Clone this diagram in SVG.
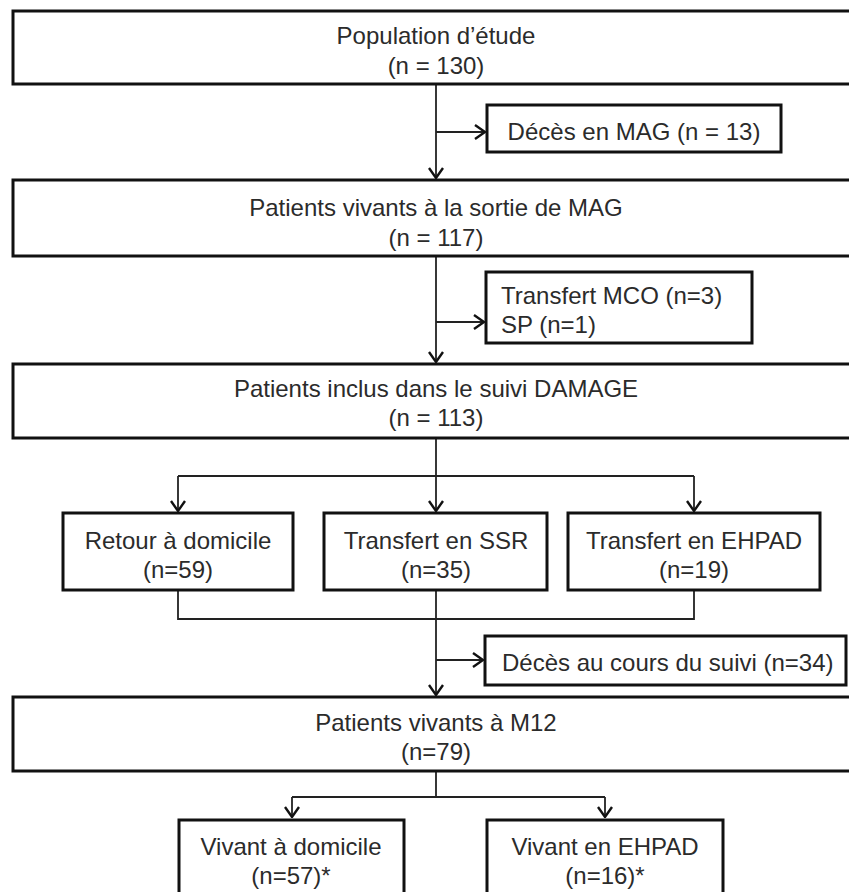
<svg xmlns="http://www.w3.org/2000/svg" width="849" height="892" viewBox="0 0 849 892">
  <style>
    .box { fill: #ffffff; stroke: #111111; stroke-width: 3; }
    .lbl { font-family: "Liberation Sans", Arial, sans-serif; font-size: 24px; fill: #2b2b2b; text-anchor: middle; }
    .lbl-left { text-anchor: start; }
    .conn { fill: none; stroke: #222222; stroke-width: 1.8; }
  </style>
  <defs>
    <marker id="chev" viewBox="0 0 12 16" refX="11" refY="8" markerWidth="12" markerHeight="16" markerUnits="userSpaceOnUse" orient="auto">
      <path d="M1,1 L11,8 L1,15" fill="none" stroke="#111111" stroke-width="2.4"/>
    </marker>
  </defs>

  <!-- connectors -->
  <g id="connectors">
    <path class="conn" d="M436,84 V178" marker-end="url(#chev)"/>
    <path class="conn" d="M436,132 H485" marker-end="url(#chev)"/>
    <path class="conn" d="M436,256 V362" marker-end="url(#chev)"/>
    <path class="conn" d="M436,322 H484" marker-end="url(#chev)"/>
    <path class="conn" d="M436,438 V511" marker-end="url(#chev)"/>
    <path class="conn" d="M178,476 H694"/>
    <path class="conn" d="M178,476 V511" marker-end="url(#chev)"/>
    <path class="conn" d="M694,476 V511" marker-end="url(#chev)"/>
    <path class="conn" d="M178,590 V619 H694 V590"/>
    <path class="conn" d="M436,590 V695" marker-end="url(#chev)"/>
    <path class="conn" d="M436,660 H483" marker-end="url(#chev)"/>
    <path class="conn" d="M436,771 V797"/>
    <path class="conn" d="M292,797 H605"/>
    <path class="conn" d="M292,797 V817" marker-end="url(#chev)"/>
    <path class="conn" d="M605,797 V817" marker-end="url(#chev)"/>
  </g>

  <!-- main column -->
  <g id="population">
    <rect class="box" x="13" y="11" width="846" height="73"/>
    <text class="lbl" x="436" y="44">Population d’étude</text>
    <text class="lbl" x="436" y="74">(n = 130)</text>
  </g>

  <g id="deces-mag">
    <rect class="box" x="487" y="105" width="294" height="47"/>
    <text class="lbl" x="634" y="140">Décès en MAG (n = 13)</text>
  </g>

  <g id="vivants-sortie">
    <rect class="box" x="13" y="180" width="846" height="76"/>
    <text class="lbl" x="436" y="216">Patients vivants à la sortie de MAG</text>
    <text class="lbl" x="436" y="246">(n = 117)</text>
  </g>

  <g id="transferts">
    <rect class="box" x="486" y="272" width="266" height="71"/>
    <text class="lbl lbl-left" x="501" y="304">Transfert MCO (n=3)</text>
    <text class="lbl lbl-left" x="501" y="333">SP (n=1)</text>
  </g>

  <g id="inclus-damage">
    <rect class="box" x="13" y="364" width="846" height="74"/>
    <text class="lbl" x="436" y="397">Patients inclus dans le suivi DAMAGE</text>
    <text class="lbl" x="436" y="426">(n = 113)</text>
  </g>

  <!-- discharge destinations -->
  <g id="retour-domicile">
    <rect class="box" x="63" y="513" width="230" height="77"/>
    <text class="lbl" x="178" y="549">Retour à domicile</text>
    <text class="lbl" x="178" y="578">(n=59)</text>
  </g>

  <g id="transfert-ssr">
    <rect class="box" x="324" y="513" width="223" height="77"/>
    <text class="lbl" x="436" y="549">Transfert en SSR</text>
    <text class="lbl" x="436" y="578">(n=35)</text>
  </g>

  <g id="transfert-ehpad">
    <rect class="box" x="568" y="513" width="252" height="77"/>
    <text class="lbl" x="694" y="549">Transfert en EHPAD</text>
    <text class="lbl" x="694" y="578">(n=19)</text>
  </g>

  <g id="deces-suivi">
    <rect class="box" x="485" y="636" width="361" height="49"/>
    <text class="lbl lbl-left" x="502" y="671">Décès au cours du suivi (n=34)</text>
  </g>

  <g id="vivants-m12">
    <rect class="box" x="13" y="697" width="846" height="74"/>
    <text class="lbl" x="436" y="731">Patients vivants à M12</text>
    <text class="lbl" x="436" y="760">(n=79)</text>
  </g>

  <!-- status at 12 months -->
  <g id="vivant-domicile">
    <rect class="box" x="179" y="820" width="225" height="90"/>
    <text class="lbl" x="291" y="855">Vivant à domicile</text>
    <text class="lbl" x="291" y="884">(n=57)*</text>
  </g>

  <g id="vivant-ehpad">
    <rect class="box" x="487" y="820" width="236" height="90"/>
    <text class="lbl" x="605" y="855">Vivant en EHPAD</text>
    <text class="lbl" x="605" y="884">(n=16)*</text>
  </g>
</svg>
